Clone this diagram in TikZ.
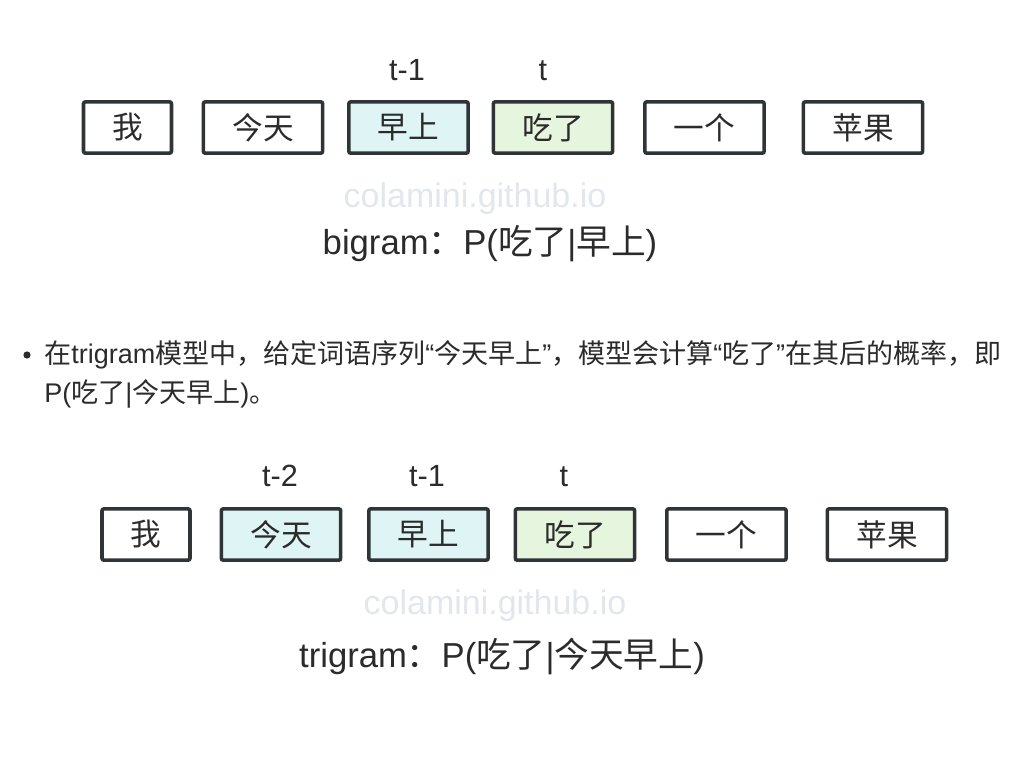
\documentclass[tikz,border=0pt]{standalone}
\usepackage{fontspec}
\setmainfont{Liberation Sans}
\newfontfamily\cjk{Noto Sans CJK SC}
\definecolor{boxline}{HTML}{2F3437}
\definecolor{cyanfill}{HTML}{DFF4F5}
\definecolor{greenfill}{HTML}{E6F5DD}
\definecolor{wm}{HTML}{E2E7EE}
\definecolor{txt}{HTML}{2B2B2B}
\begin{document}
\begin{tikzpicture}[x=0.75pt,y=-0.75pt,
  word/.style={draw=boxline,line width=2.7pt,rounded corners=1.5pt,minimum height=38.5pt,inner sep=0pt,text=txt,font=\cjk\fontsize{23}{23}\selectfont},
  narrow/.style={word,minimum width=66pt},
  wide/.style={word,minimum width=89.5pt},
  hlc/.style={fill=cyanfill},
  hlg/.style={fill=greenfill},
  lab/.style={anchor=base,inner sep=0pt,text=txt,font=\fontsize{23}{23}\selectfont},
  water/.style={anchor=base,inner sep=0pt,text=wm,font=\fontsize{25.5}{25.5}\selectfont},
  captext/.style={anchor=base,inner sep=0pt,text=txt,font=\fontsize{26}{26}\selectfont},
  bodytext/.style={anchor=base west,inner sep=0pt,text=txt,font=\fontsize{20.25}{20.25}\selectfont}]
\useasboundingbox (0,0) rectangle (1025,761);
% top row
\node[narrow] (a1) at (127.5,127.5) {我};
\node[wide] (a2) at (263,127.5) {今天};
\node[wide,hlc] (a3) at (408.5,127.5) {早上};
\node[wide,hlg] (a4) at (553,127.5) {吃了};
\node[wide] (a5) at (704.5,127.5) {一个};
\node[wide] (a6) at (863,127.5) {苹果};
\node[lab] (la3) at (407,80) {t-1};
\node[lab] (la4) at (543,80) {t};
\node[water] (w1) at (475,207) {colamini.github.io};
\node[captext] (c1) at (490,254) {bigram{\cjk ：}P({\cjk 吃了}|{\cjk 早上})};
% bullet text
\fill[txt] (27,355) circle (3.6);
\node[bodytext] (t1) at (44,363) {{\cjk 在}trigram{\cjk 模型中，给定词语序列}“{\cjk 今天早上}”{\cjk ，模型会计算}“{\cjk 吃了}”{\cjk 在其后的概率，即}};
\node[bodytext] (t2) at (44,402) {P({\cjk 吃了}|{\cjk 今天早上}){\cjk 。}};
% bottom row
\node[narrow] (b1) at (146,534.5) {我};
\node[wide,hlc] (b2) at (281,534.5) {今天};
\node[wide,hlc] (b3) at (428.5,534.5) {早上};
\node[wide,hlg] (b4) at (575,534.5) {吃了};
\node[wide] (b5) at (726.5,534.5) {一个};
\node[wide] (b6) at (887,534.5) {苹果};
\node[lab] (lb2) at (280,486) {t-2};
\node[lab] (lb3) at (427,486) {t-1};
\node[lab] (lb4) at (564,486) {t};
\node[water] (w2) at (495,614) {colamini.github.io};
\node[captext] (c2) at (502,667) {trigram{\cjk ：}P({\cjk 吃了}|{\cjk 今天早上})};
\end{tikzpicture}
\end{document}
